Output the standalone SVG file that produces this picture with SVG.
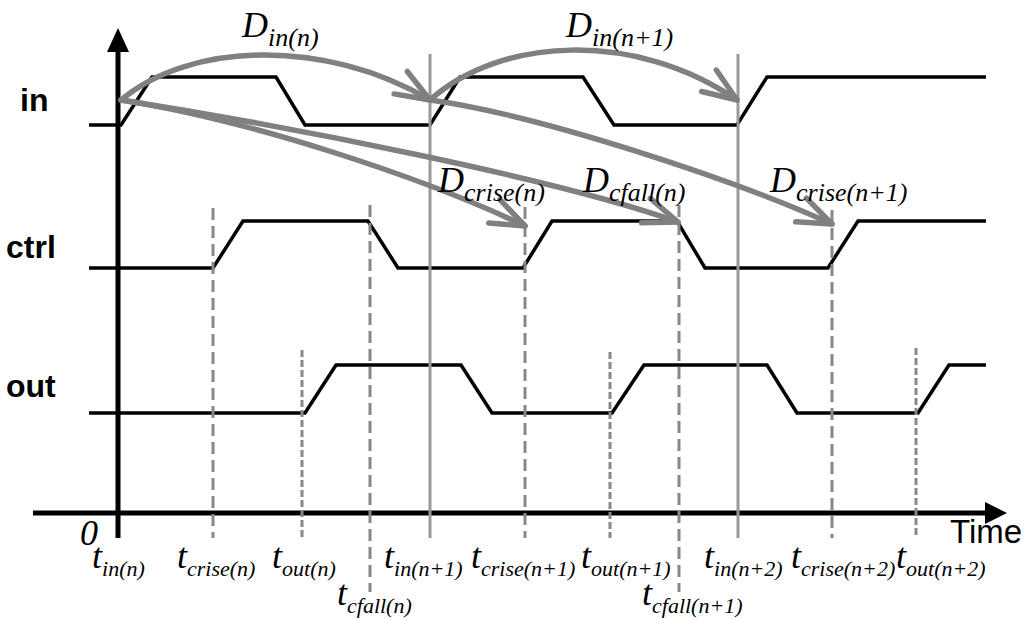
<svg xmlns="http://www.w3.org/2000/svg" width="1030" height="620" viewBox="0 0 1030 620">
  <style>
    .axis { stroke: #000; stroke-width: 5; fill: none; }
    .wave { stroke: #000; stroke-width: 3.5; fill: none; stroke-linejoin: miter; }
    .mark { stroke: #999; stroke-width: 3; fill: none; }
    .dash { stroke: #888; stroke-width: 3; fill: none; stroke-dasharray: 12 6; }
    .dot { stroke: #888; stroke-width: 3; fill: none; stroke-dasharray: 7 3; }
    .delay { stroke: #808080; stroke-width: 5.5; fill: none; stroke-linecap: round; marker-end: url(#head); }
    .sig { font-family: "Liberation Sans", Arial, sans-serif; font-weight: bold; font-size: 32px; fill: #000; }
    .math { font-family: "Liberation Serif", "Times New Roman", serif; font-style: italic; fill: #000; }
    .big { font-size: 36px; }
    .dsub { font-size: 26px; }
    .tsub { font-size: 22px; }
    .time { font-family: "Liberation Sans", Arial, sans-serif; font-size: 33px; fill: #000; }
  </style>
  <defs>
    <marker id="head" markerUnits="userSpaceOnUse" orient="auto" markerWidth="50" markerHeight="40" viewBox="-40 -20 50 40" refX="0" refY="0" overflow="visible">
      <path d="M-34,-13 L0,0 L-34,13" fill="none" stroke="#808080" stroke-width="5.5" stroke-linecap="round" stroke-linejoin="round"/>
    </marker>
  </defs>

  <rect width="1030" height="620" fill="#fff"/>

  <!-- axes -->
  <g id="axes">
    <line class="axis" x1="118" y1="538" x2="118" y2="48"/>
    <polygon points="118,28 107,52 129,52" fill="#000"/>
    <line class="axis" x1="33" y1="513" x2="990" y2="513"/>
    <polygon points="1007,513 985,502 985,524" fill="#000"/>
    <text class="time" x="950" y="543">Time</text>
    <text class="math big" x="80" y="545">0</text>
  </g>

  <!-- signal waveforms -->
  <g id="sig-in">
    <text class="sig" x="20" y="111">in</text>
    <path class="wave" d="M89,125 L121,125 L152,77 L276,77 L305,125 L430,125 L460,77 L583,77 L614,125 L737,125 L767,77 L986,77"/>
  </g>
  <g id="sig-ctrl">
    <text class="sig" x="6" y="258">ctrl</text>
    <path class="wave" d="M89,268 L213,268 L243,221 L368,221 L398,268 L523,268 L552,221 L677,221 L705,268 L828,268 L858,221 L986,221"/>
  </g>
  <g id="sig-out">
    <text class="sig" x="6" y="397">out</text>
    <path class="wave" d="M89,413 L305,413 L336,365 L461,365 L492,413 L612,413 L644,365 L767,365 L797,413 L918,413 L949,365 L986,365"/>
  </g>

  <!-- time markers -->
  <g id="markers">
    <line class="mark" x1="430" y1="54" x2="430" y2="538"/>
    <line class="mark" x1="738" y1="54" x2="738" y2="538"/>
    <line class="dash" x1="213" y1="208" x2="213" y2="538"/>
    <line class="dash" x1="370" y1="205" x2="370" y2="592"/>
    <line class="dash" x1="525" y1="207" x2="525" y2="538"/>
    <line class="dash" x1="679" y1="205" x2="679" y2="592"/>
    <line class="dash" x1="832" y1="210" x2="832" y2="538"/>
    <line class="dot" x1="302" y1="350" x2="302" y2="538"/>
    <line class="dot" x1="610" y1="352" x2="610" y2="538"/>
    <line class="dot" x1="916" y1="348" x2="916" y2="538"/>
  </g>

  <!-- delay connectors -->
  <g id="connectors">
    <path class="delay" d="M121,100 C190,42 325,38 430,100"/>
    <path class="delay" d="M430,100 C500,37 635,30 737,100"/>
    <path class="delay" d="M121,100 C250,120 425,178 525,226"/>
    <path class="delay" d="M121,100 C300,128 560,180 678,222"/>
    <path class="delay" d="M430,100 C540,115 735,180 832,224"/>
  </g>

  <!-- delay labels -->
  <g id="delay-labels">
    <text class="math big" x="242" y="37">D<tspan class="dsub" dy="9">in(n)</tspan></text>
    <text class="math big" x="566" y="37">D<tspan class="dsub" dy="9">in(n+1)</tspan></text>
    <text class="math big" x="438" y="192">D<tspan class="dsub" dy="9">crise(n)</tspan></text>
    <text class="math big" x="583" y="192">D<tspan class="dsub" dy="9">cfall(n)</tspan></text>
    <text class="math big" x="770" y="192">D<tspan class="dsub" dy="9">crise(n+1)</tspan></text>
  </g>

  <!-- time labels -->
  <g id="time-labels">
    <text class="math big" x="92" y="568">t<tspan class="tsub" dy="8">in(n)</tspan></text>
    <text class="math big" x="177" y="568">t<tspan class="tsub" dy="8">crise(n)</tspan></text>
    <text class="math big" x="272" y="568">t<tspan class="tsub" dy="8">out(n)</tspan></text>
    <text class="math big" x="337" y="605">t<tspan class="tsub" dy="8">cfall(n)</tspan></text>
    <text class="math big" x="384" y="568">t<tspan class="tsub" dy="8">in(n+1)</tspan></text>
    <text class="math big" x="471" y="568">t<tspan class="tsub" dy="8">crise(n+1)</tspan></text>
    <text class="math big" x="581" y="568">t<tspan class="tsub" dy="8">out(n+1)</tspan></text>
    <text class="math big" x="642" y="605">t<tspan class="tsub" dy="8">cfall(n+1)</tspan></text>
    <text class="math big" x="704" y="568">t<tspan class="tsub" dy="8">in(n+2)</tspan></text>
    <text class="math big" x="791" y="568">t<tspan class="tsub" dy="8">crise(n+2)</tspan></text>
    <text class="math big" x="896" y="568">t<tspan class="tsub" dy="8">out(n+2)</tspan></text>
  </g>
</svg>
